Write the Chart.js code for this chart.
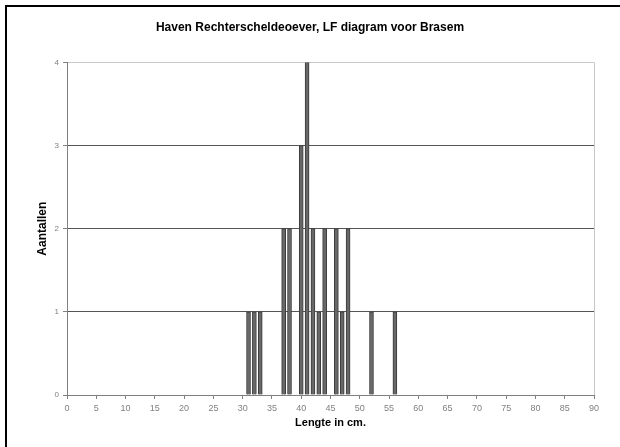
<!DOCTYPE html>
<html>
<head>
<meta charset="utf-8">
<script src="https://cdn.jsdelivr.net/npm/chart.js@4/dist/chart.umd.min.js"></script>
<style>
  html, body { margin: 0; padding: 0; background: #fff; }
  #wrap { width: 620px; height: 447px; }
</style>
</head>
<body>
<div id="wrap"><canvas id="lf-chart" width="620" height="447"></canvas></div>
<script>
// lengte (cm) en aantallen
var lengths = [31, 32, 33, 37, 38, 40, 41, 42, 43, 44, 46, 47, 48, 52, 56];
var counts  = [1, 1, 1, 2, 2, 3, 4, 2, 1, 2, 2, 1, 2, 1, 1];
var xTicks = [0, 5, 10, 15, 20, 25, 30, 35, 40, 45, 50, 55, 60, 65, 70, 75, 80, 85, 90];
var yTicks = [0, 1, 2, 3, 4];

var points = [];
for (var i = 0; i < lengths.length; i++) {
  points.push({ x: lengths[i], y: counts[i] });
}

// zwart kader links en boven
var frame = {
  id: 'frame',
  beforeDraw: function(chart) {
    var c = chart.ctx;
    c.save();
    c.fillStyle = '#fff';
    c.fillRect(0, 0, chart.width, chart.height);
    c.strokeStyle = '#000';
    c.lineWidth = 2;
    c.beginPath();
    c.moveTo(6, chart.height);
    c.lineTo(6, 6);
    c.lineTo(chart.width, 6);
    c.stroke();
    c.restore();
  }
};

new Chart(document.getElementById('lf-chart'), {
  type: 'bar',
  data: {
    datasets: [{
      label: 'Brasem',
      data: points,
      backgroundColor: '#686868',
      borderColor: '#3a3a3a',
      borderWidth: 1,
      barThickness: 4
    }]
  },
  options: {
    responsive: false,
    animation: false,
    layout: { padding: 0 },
    plugins: {
      legend: { display: false },
      tooltip: { enabled: false },
      title: {
        display: true,
        text: 'Haven Rechterscheldeoever, LF diagram voor Brasem',
        color: '#000',
        font: { family: 'Liberation Sans', size: 12, weight: 'bold' },
        padding: { top: 20, bottom: 28 }
      }
    },
    scales: {
      x: {
        type: 'linear',
        min: 0,
        max: 90,
        offset: false,
        afterBuildTicks: function(s) { s.ticks = xTicks.map(function(v) { return { value: v }; }); },
        afterFit: function(s) { s.height = 52; },
        border: { color: '#808080', width: 1 },
        grid: {
          offset: false,
          drawOnChartArea: true,
          color: function(ctx) { return ctx.tick && ctx.tick.value === 90 ? '#c8c8c8' : 'rgba(0,0,0,0)'; },
          tickColor: '#808080',
          tickLength: 4
        },
        ticks: {
          color: '#808080',
          padding: 4,
          maxRotation: 0,
          autoSkip: false,
          font: { family: 'Liberation Sans', size: 9 }
        },
        title: {
          display: true,
          text: 'Lengte in cm.',
          color: '#000',
          font: { family: 'Liberation Sans', size: 11, weight: 'bold' },
          padding: { top: 0, bottom: 17 }
        }
      },
      y: {
        min: 0,
        max: 4,
        afterBuildTicks: function(s) { s.ticks = yTicks.map(function(v) { return { value: v }; }); },
        afterFit: function(s) { s.width = 67; },
        border: { color: '#808080', width: 1 },
        grid: {
          color: function(ctx) { return ctx.tick && ctx.tick.value === 4 ? '#c8c8c8' : '#555555'; },
          tickColor: '#808080',
          tickLength: 4
        },
        ticks: {
          color: '#808080',
          padding: 4,
          font: { family: 'Liberation Sans', size: 8 }
        },
        title: {
          display: true,
          text: 'Aantallen',
          color: '#000',
          font: { family: 'Liberation Sans', size: 12, weight: 'bold' },
          padding: { top: 35, bottom: 0 }
        }
      },
      // lege as rechts, houdt ruimte vrij naast het plotvlak
      yRight: {
        position: 'right',
        min: 0,
        max: 4,
        afterFit: function(s) { s.width = 26; },
        border: { display: false },
        grid: { display: false },
        ticks: { display: false }
      }
    }
  },
  plugins: [frame]
});
</script>
</body>
</html>
